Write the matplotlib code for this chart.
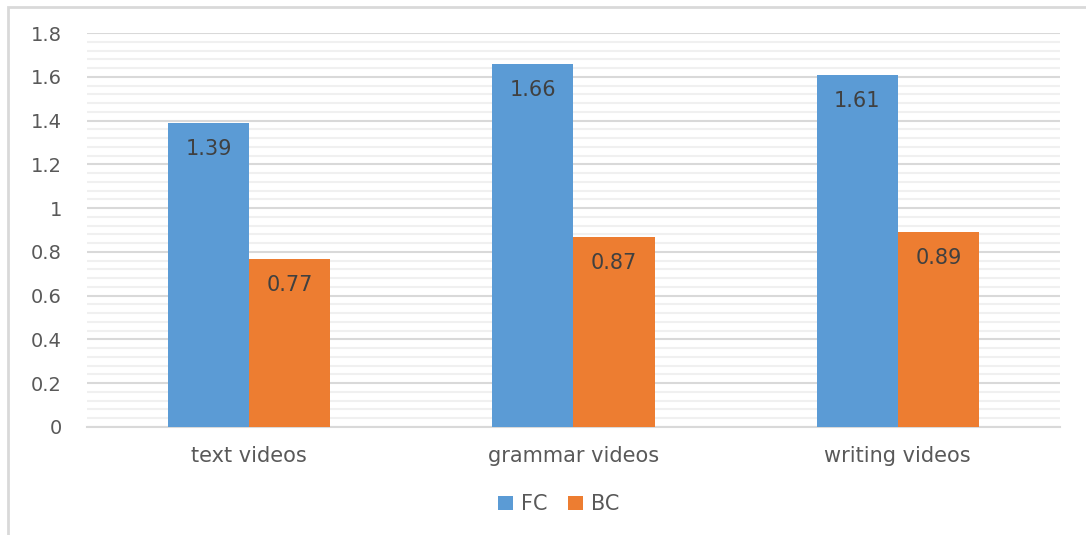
import matplotlib.pyplot as plt
from matplotlib.patches import Rectangle
from matplotlib.ticker import MultipleLocator
import numpy as np

categories = ["text videos", "grammar videos", "writing videos"]
fc_values = [1.39, 1.66, 1.61]
bc_values = [0.77, 0.87, 0.89]
y_ticks = [0, 0.2, 0.4, 0.6, 0.8, 1, 1.2, 1.4, 1.6, 1.8]
y_tick_labels = ["0", "0.2", "0.4", "0.6", "0.8", "1", "1.2", "1.4", "1.6", "1.8"]

blue = "#5B9BD5"
orange = "#ED7D31"
text_color = "#595959"

plt.rcParams["font.family"] = ["DejaVu Sans"]

fig = plt.figure(figsize=(10.86, 5.35), dpi=100)
ax = fig.add_axes([0.0801, 0.2019, 0.8959, 0.7361])

# outer chart border
fig.patches.append(Rectangle((8 / 1086, -0.1), 1.2, 1 - 7 / 535 + 0.1,
                             transform=fig.transFigure, fill=False,
                             edgecolor="#D9D9D9", linewidth=2))

x = np.arange(len(categories))
w = 0.25
b1 = ax.bar(x - w / 2, fc_values, w, color=blue, label="FC", zorder=3)
b2 = ax.bar(x + w / 2, bc_values, w, color=orange, label="BC", zorder=3)

for bars in (b1, b2):
    ax.bar_label(bars, labels=[f"{v:.2f}" for v in bars.datavalues],
                 label_type="edge", padding=-26, fontsize=15, color="#404040")

ax.set_xlim(-0.5, 2.5)
ax.set_ylim(0, 1.8)
ax.set_yticks(y_ticks)
ax.set_yticklabels(y_tick_labels)
ax.yaxis.set_minor_locator(MultipleLocator(0.04))
ax.set_xticks(x)
ax.set_xticklabels(categories)

ax.grid(axis="y", which="major", color="#D9D9D9", linewidth=1.5, zorder=0)
ax.grid(axis="y", which="minor", color="#F0F0F0", linewidth=1.5, zorder=0)
ax.set_axisbelow(True)

for s in ["top", "right", "left"]:
    ax.spines[s].set_visible(False)
ax.spines["bottom"].set_color("#D9D9D9")
ax.spines["bottom"].set_linewidth(1.5)

ax.tick_params(axis="both", which="both", length=0, labelcolor=text_color)
ax.tick_params(axis="y", labelsize=14, pad=18)
ax.tick_params(axis="x", labelsize=15, pad=14)

ax.legend(loc="center", bbox_to_anchor=(0.485, -0.196), ncol=2, frameon=False,
          fontsize=15, labelcolor=text_color, handlelength=0.7, handleheight=0.7,
          handletextpad=0.4, columnspacing=1.0, bbox_transform=ax.transAxes)

fig.savefig("out.png", dpi=100)
